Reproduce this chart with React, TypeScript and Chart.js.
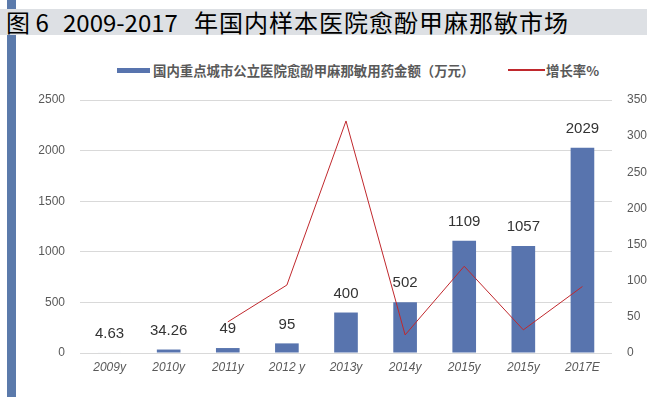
import React, { useEffect, useRef } from "react";
import { Chart, registerables } from "chart.js";

Chart.register(...registerables);

const categories = ["2009y", "2010y", "2011y", "2012 y", "2013y", "2014y", "2015y", "2015y", "2017E"];
const salesValues = [4.63, 34.26, 49, 95, 400, 502, 1109, 1057, 2029];
const salesLabels = ["4.63", "34.26", "49", "95", "400", "502", "1109", "1057", "2029"];
const growthValues: (number | null)[] = [null, null, 43, 94, 321, 25, 120, 32, 92];

const leftMax = 2500;
const leftStep = 500;
const rightMax = 350;
const rightStep = 50;

const titleParts = ["图 6", "2009-2017", "年国内样本医院愈酚甲麻那敏市场"];
const legendBar = "国内重点城市公立医院愈酚甲麻那敏用药金额（万元）";
const legendLine = "增长率%";

const BAR_COLOR = "#5874ae";
const LINE_COLOR = "#c0282d";
const TICK_COLOR = "#595959";
const FONT = "'Liberation Sans', Arial, sans-serif";

const valueLabelPlugin = {
  id: "valueLabels",
  afterDatasetsDraw(chart: any) {
    const meta = chart.getDatasetMeta(1);
    const ctx = chart.ctx;
    ctx.save();
    ctx.font = `15px ${FONT}`;
    ctx.fillStyle = "#333333";
    ctx.textAlign = "center";
    ctx.textBaseline = "middle";
    meta.data.forEach((el: any, i: number) => {
      ctx.fillText(salesLabels[i], el.x, el.y - 19);
    });
    ctx.restore();
  },
};

export default function App() {
  const canvasRef = useRef<HTMLCanvasElement | null>(null);

  useEffect(() => {
    if (!canvasRef.current) return;
    const chart = new Chart(canvasRef.current, {
      type: "bar",
      data: {
        labels: categories,
        datasets: [
          {
            type: "line",
            label: legendLine,
            data: growthValues,
            borderColor: LINE_COLOR,
            backgroundColor: LINE_COLOR,
            borderWidth: 1,
            pointRadius: 0,
            tension: 0,
            yAxisID: "y1",
            order: 0,
          } as any,
          {
            type: "bar",
            label: legendBar,
            data: salesValues,
            backgroundColor: BAR_COLOR,
            categoryPercentage: 1,
            barPercentage: 0.4,
            yAxisID: "y",
            order: 1,
          },
        ],
      },
      options: {
        responsive: false,
        animation: false,
        devicePixelRatio: 1,
        layout: { padding: { top: 100, left: 0, right: 0, bottom: 0 } },
        plugins: {
          legend: { display: false },
          tooltip: { enabled: false },
          title: { display: false },
        },
        scales: {
          x: {
            grid: { display: false, drawTicks: false },
            border: { display: false },
            ticks: {
              color: TICK_COLOR,
              font: { family: FONT, size: 12, style: "italic" },
              padding: 7,
              maxRotation: 0,
              autoSkip: false,
            },
            afterFit(scale: any) {
              scale.height = 44;
            },
          },
          y: {
            position: "left",
            min: 0,
            max: leftMax,
            grid: { color: "#d9d9d9", lineWidth: 1, drawTicks: false },
            border: { display: false },
            ticks: {
              stepSize: leftStep,
              color: TICK_COLOR,
              font: { family: FONT, size: 12 },
              padding: 15,
              callback: (v: any) => String(v),
            },
            afterFit(scale: any) {
              scale.width = 80;
            },
          },
          y1: {
            position: "right",
            min: 0,
            max: rightMax,
            grid: { display: false, drawTicks: false },
            border: { display: false },
            ticks: {
              stepSize: rightStep,
              color: TICK_COLOR,
              font: { family: FONT, size: 12 },
              padding: 15,
              callback: (v: any) => String(v),
            },
            afterFit(scale: any) {
              scale.width = 43;
            },
          },
        },
      },
      plugins: [valueLabelPlugin],
    });
    return () => chart.destroy();
  }, []);

  const cjk = "'Noto Sans CJK SC', 'Noto Sans', sans-serif";

  return (
    <div
      style={{
        position: "absolute",
        left: 0,
        top: 0,
        width: 655,
        height: 397,
        background: "#ffffff",
        overflow: "hidden",
      }}
    >
      <div style={{ position: "absolute", left: 7, top: 0, width: 9, height: 397, background: "#5b7aab" }} />
      <div
        style={{
          position: "absolute",
          left: 0,
          top: 9,
          width: 647,
          height: 26,
          background: "#dde0e4",
          fontFamily: cjk,
          fontSize: 24,
          lineHeight: "26px",
          color: "#000",
          whiteSpace: "pre",
        }}
      >
        <span style={{ position: "absolute", left: 6, top: 0 }}>{titleParts[0]}</span>
        <span style={{ position: "absolute", left: 63, top: 0 }}>{titleParts[1]}</span>
        <span style={{ position: "absolute", left: 194, top: 0, letterSpacing: 1 }}>{titleParts[2]}</span>
      </div>
      <div style={{ position: "absolute", left: 117, top: 68, width: 33, height: 5, background: BAR_COLOR }} />
      <div
        style={{
          position: "absolute",
          left: 153,
          top: 61,
          height: 18,
          lineHeight: "18px",
          fontFamily: cjk,
          fontSize: 13.4,
          fontWeight: 700,
          color: "#595959",
          whiteSpace: "pre",
        }}
      >
        {legendBar}
      </div>
      <div style={{ position: "absolute", left: 508, top: 69, width: 37, height: 2, background: LINE_COLOR }} />
      <div
        style={{
          position: "absolute",
          left: 546,
          top: 61,
          height: 18,
          lineHeight: "18px",
          fontFamily: cjk,
          fontSize: 13.4,
          fontWeight: 700,
          color: "#595959",
          whiteSpace: "pre",
        }}
      >
        {legendLine}
      </div>
      <canvas
        ref={canvasRef}
        width={655}
        height={397}
        style={{ position: "absolute", left: 0, top: 0, width: 655, height: 397 }}
      />
    </div>
  );
}
